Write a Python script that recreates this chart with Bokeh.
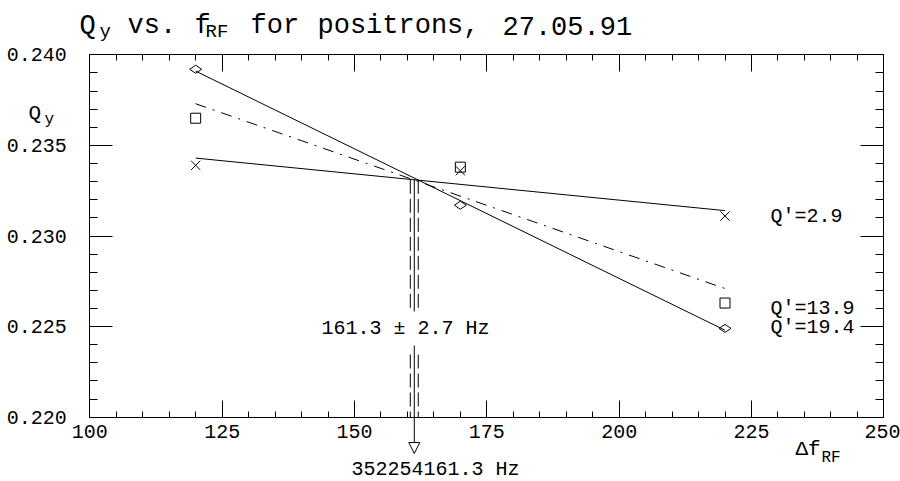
from bokeh.plotting import figure
from bokeh.models import (FixedTicker, LinearAxis, Range1d, Label, Arrow, NormalHead,
                          NumeralTickFormatter, CustomJSTickFormatter)
from bokeh.embed import file_html
from bokeh.resources import INLINE

# RF frequency offset (Hz) and measured vertical tune for three chromaticity settings
df_rf = [120, 170, 220]
qy_q19_4 = [0.2392, 0.2317, 0.2249]   # diamonds
qy_q13_9 = [0.2365, 0.2338, 0.2263]   # squares
qy_q2_9 = [0.2339, 0.2336, 0.2311]    # crosses

# straight-line fits drawn over the measured span
fit_x = [120, 220]
fit_q19_4 = [0.2391, 0.2248]
fit_q13_9 = [0.2373, 0.2271]
fit_q2_9 = [0.2343, 0.2314]

chrom_labels = ["Q'=19.4", "Q'=13.9", "Q'=2.9"]

# common crossing point of the fits
f_cross = 161.3
f_err = 2.7
q_cross = 0.2331
f_band = [160.55, 162.05]
f_rf_abs = "352254161.3 Hz"

x_bounds = (100, 250)
y_bounds = (0.220, 0.240)
x_ticks = [100, 125, 150, 175, 200, 225, 250]
x_minor = list(range(100, 251, 5))
y_ticks = [0.220, 0.225, 0.230, 0.235, 0.240]
y_minor = [round(0.220 + 0.001 * k, 3) for k in range(21)]

FONT = "Liberation Mono"
W, H = 900, 481

# the plot box sits at these canvas pixels; the frame covers the whole canvas
XP0, XP1 = 89.3, 883.3
YP0, YP1 = 54.3, 416.7


def dx(px):
    return x_bounds[0] + (px - XP0) * (x_bounds[1] - x_bounds[0]) / (XP1 - XP0)


def dy(py):
    return y_bounds[1] + (py - YP0) * (y_bounds[0] - y_bounds[1]) / (YP1 - YP0)


p = figure(width=W, height=H,
           x_range=Range1d(dx(0), dx(W)), y_range=Range1d(dy(H), dy(0)),
           output_backend="svg", toolbar_location=None,
           x_axis_location=None, y_axis_location=None,
           min_border=0)
p.grid.visible = False
p.outline_line_color = None
p.background_fill_color = "white"
p.border_fill_color = "white"


def style_axis(ax, major_in, minor_in, labels=True):
    ax.axis_line_color = "black"
    ax.axis_line_width = 1
    ax.major_tick_line_color = "black"
    ax.minor_tick_line_color = "black"
    ax.major_tick_in = major_in
    ax.major_tick_out = 0
    ax.minor_tick_in = minor_in
    ax.minor_tick_out = 0
    ax.major_label_text_font = FONT
    ax.major_label_text_font_size = "20px"
    ax.major_label_text_color = "black"
    if not labels:
        ax.formatter = CustomJSTickFormatter(code="return ''")
        ax.major_label_standoff = 0


xt = FixedTicker(ticks=x_ticks, minor_ticks=x_minor)
yt = FixedTicker(ticks=y_ticks, minor_ticks=y_minor)

bottom = LinearAxis(ticker=xt, fixed_location=y_bounds[0], bounds=x_bounds)
style_axis(bottom, 17, 6)
bottom.major_label_standoff = 8
left = LinearAxis(ticker=yt, fixed_location=x_bounds[0], bounds=y_bounds,
                  formatter=NumeralTickFormatter(format="0.000"))
style_axis(left, 23, 8)
left.major_label_standoff = 23
top = LinearAxis(ticker=xt, fixed_location=y_bounds[1], bounds=x_bounds)
style_axis(top, 17, 6, labels=False)
right = LinearAxis(ticker=yt, fixed_location=x_bounds[1], bounds=y_bounds)
style_axis(right, 23, 8, labels=False)

p.add_layout(bottom, "below")
p.add_layout(left, "left")
p.add_layout(top, "above")
p.add_layout(right, "right")

# fitted lines
p.line(fit_x, fit_q19_4, line_color="black", line_width=1)
p.line(fit_x, fit_q13_9, line_color="black", line_width=1, line_dash="11 7 2 7")
p.line(fit_x, fit_q2_9, line_color="black", line_width=1)

# measured points
p.scatter(df_rf, qy_q19_4, marker="diamond", size=12, angle=1.5708,
          fill_color=None, line_color="black", line_width=1)
p.scatter(df_rf, qy_q13_9, marker="square", size=10,
          fill_color=None, line_color="black", line_width=1)
p.scatter(df_rf, qy_q2_9, marker="x", size=13,
          line_color="black", line_width=1)

# crossing marker: solid centre line and dashed band, broken around the text
y_gap_top = dy(311)
p.segment(x0=[f_cross], y0=[q_cross], x1=[f_cross], y1=[y_gap_top],
          line_color="black", line_width=1)
p.segment(x0=f_band, y0=[q_cross] * 2, x1=f_band, y1=[y_gap_top] * 2,
          line_color="black", line_width=1, line_dash="14 5")
p.segment(x0=f_band, y0=[dy(354)] * 2, x1=f_band, y1=[y_bounds[0]] * 2,
          line_color="black", line_width=1, line_dash="14 5")
p.add_layout(Arrow(x_start=f_cross, y_start=dy(345), x_end=f_cross, y_end=dy(453),
                   line_color="black", line_width=1,
                   end=NormalHead(size=11, fill_color="white", line_color="black",
                                  line_width=1)))


def text(s, px, py, size="20px", align="left"):
    p.add_layout(Label(x=dx(px), y=dy(py), text=s, text_font=FONT, text_font_size=size,
                       text_color="black", text_align=align, text_baseline="middle"))


# title with subscripts, words laid on a fixed character pitch
text("Q", 79, 25, "27px")
text("y", 99, 31, "19px")
text("vs.", 127, 25, "27px")
text("f", 194, 25, "27px")
text("RF", 205, 31, "19px")
text("for", 250, 25, "27px")
text("positrons,", 317, 25, "27px")
text("27.05.91", 502, 25, "27px")

# axis titles
text("Q", 28, 113, "21px")
text("y", 44, 119, "16px")
text("\u0394f", 795, 449, "21px")
text("RF", 821, 457, "16px")

# chromaticity labels next to the last points
text(chrom_labels[2], 770, 216)
text(chrom_labels[1], 770, 308)
text(chrom_labels[0], 770, 327)

# crossing value and absolute RF frequency
text(f"{f_cross} \u00b1 {f_err} Hz", 405, 328, align="center")
text(f_rf_abs, 435, 469, align="center")

open("out.html", "w").write(file_html(p, INLINE))
